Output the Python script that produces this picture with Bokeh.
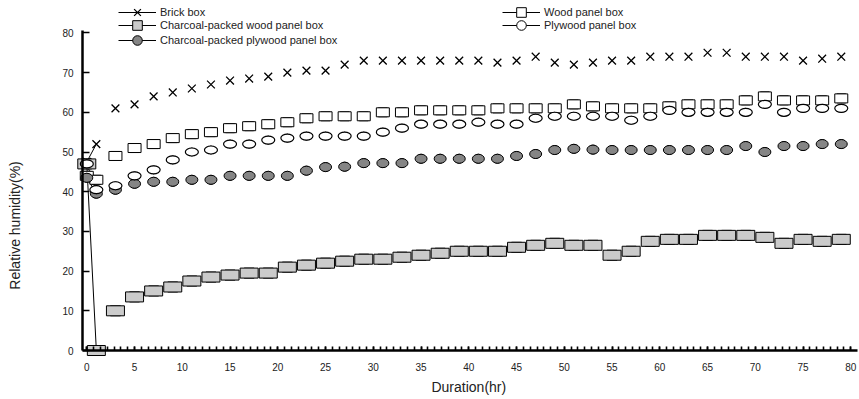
import math
from bokeh.plotting import figure
from bokeh.models import Range1d, SingleIntervalTicker, Legend, LegendItem, Label
from bokeh.embed import file_html
from bokeh.resources import INLINE

hours = [0, 1, 3, 5, 7, 9, 11, 13, 15, 17, 19, 21, 23, 25, 27, 29, 31, 33, 35, 37,
         39, 41, 43, 45, 47, 49, 51, 53, 55, 57, 59, 61, 63, 65, 67, 69, 71, 73, 75, 77, 79]

brick_box = [47.5, 52, 61, 62, 64, 65, 66, 67, 68, 68.5, 69, 70, 70.5, 70.5, 72, 73, 73, 73, 73, 73,
             73, 73, 72.5, 73, 74, 72.5, 72, 72.5, 73, 73, 74, 74, 74, 75, 75, 74, 74, 74, 73, 73.5, 74]

wood_panel_box = [44, 43, 49, 51, 52, 53.5, 54.5, 55, 56, 56.5, 57, 57.5, 58.5, 59, 59, 59, 60, 60, 60.5, 60.5,
                  60.5, 60.5, 61, 61, 61, 61, 62, 61.5, 61, 61, 61, 61.5, 62, 62, 62, 63, 64, 63, 63, 63, 63.5]

charcoal_wood_box = [47, 0, 10, 13.5, 15, 16, 17.5, 18.5, 19, 19.5, 19.5, 21, 21.5, 22, 22.5, 23, 23, 23.5, 24, 24.5,
                     25, 25, 25, 26, 26.5, 27, 26.5, 26.5, 24, 25, 27.5, 28, 28, 29, 29, 29, 28.5, 27, 28, 27.5, 28]

plywood_box = [47, 40.5, 41.5, 44, 45.5, 48, 50, 50.5, 52, 52, 53, 53.5, 54, 54, 54, 54, 55, 56, 57, 57,
               57, 57.5, 57, 57, 58.5, 59, 59, 59, 59, 58, 59, 60.5, 60, 60, 60, 60, 62, 60, 61, 61, 61]

charcoal_plywood_box = [43.5, 39.5, 40.5, 42, 42.5, 42.5, 43, 43, 44, 44, 44, 44, 45.3, 46.2, 46.3, 47.2, 47.2, 47.2, 48.3, 48.3,
                        48.3, 48.3, 48.3, 49, 49.5, 50.5, 50.8, 50.6, 50.5, 50.5, 50.5, 50.5, 50.5, 50.5, 50.5, 51.5, 50, 51.5, 51.5, 52, 52]

x_ticks_interval = 5
y_ticks_interval = 10
x_axis_bounds = (-0.45, 80.7)
y_axis_bounds = (0, 80.6)

FONT = "Liberation Sans"
LIGHT = "#cbcbcb"
DARK = "#858585"
TXT = "#222222"

p = figure(width=859, height=399, output_backend="svg", toolbar_location=None,
           x_range=Range1d(-9.036, 80.909), y_range=Range1d(-12.34, 88.16),
           min_border=0, min_border_left=0, min_border_right=0, min_border_top=0, min_border_bottom=0)
p.outline_line_color = None
p.grid.visible = False
p.background_fill_color = "white"
p.border_fill_color = "white"

# brick first (its 0 h mark sits under the other start marks)
r_brick = p.scatter(hours, brick_box, marker="x", size=11, line_color="black", line_width=1.3)

# first segments (0 -> 1 h)
seg = {}
for name, ys in [("brick", brick_box), ("wood", wood_panel_box), ("cwood", charcoal_wood_box),
                 ("ply", plywood_box), ("cply", charcoal_plywood_box)]:
    seg[name] = p.line(hours[:2], ys[:2], line_color="black", line_width=1)

# small core markers (used as legend samples), covered by the wider shapes drawn on top
c_cwood = p.scatter(hours, charcoal_wood_box, marker="square", size=10, fill_color=LIGHT, line_color="black")
r_cwood = p.rect(hours, charcoal_wood_box, width=18, height=10, width_units="screen", height_units="screen",
                 fill_color=LIGHT, line_color="black", line_width=1)
c_wood = p.scatter(hours, wood_panel_box, marker="square", size=9, fill_color="white", line_color="black")
r_wood = p.rect(hours, wood_panel_box, width=13, height=9, width_units="screen", height_units="screen",
                fill_color="white", line_color="black", line_width=1)
c_cply = p.scatter(hours, charcoal_plywood_box, marker="circle", size=9, fill_color=DARK, line_color="black")
r_cply = p.ellipse(hours, charcoal_plywood_box, width=12, height=9, width_units="screen", height_units="screen",
                   fill_color=DARK, line_color="black", line_width=1)
c_ply = p.scatter(hours, plywood_box, marker="circle", size=8, fill_color="white", line_color="black")
r_ply = p.ellipse(hours, plywood_box, width=13, height=8, width_units="screen", height_units="screen",
                  fill_color="white", line_color="black", line_width=1.2)

# axes, fixed at the data origin of the chart
xa = p.xaxis[0]
xa.ticker = SingleIntervalTicker(interval=x_ticks_interval, num_minor_ticks=7)
xa.fixed_location = 0
xa.bounds = x_axis_bounds
ya = p.yaxis[0]
ya.ticker = SingleIntervalTicker(interval=y_ticks_interval, num_minor_ticks=0)
ya.fixed_location = x_axis_bounds[0]
ya.bounds = y_axis_bounds
for ax in (xa, ya):
    ax.axis_line_width = 2.5
    ax.axis_line_color = "black"
    ax.major_tick_out = 0
    ax.minor_tick_out = 0
    ax.major_tick_line_width = 1.6
    ax.minor_tick_line_width = 1.6
    ax.major_label_text_font = FONT
    ax.major_label_text_font_size = "10px"
    ax.major_label_text_color = TXT
xa.major_tick_in = 4
xa.minor_tick_in = 4
xa.major_label_standoff = 12
ya.major_tick_in = 7
ya.minor_tick_in = 0
ya.major_label_standoff = 9

p.add_layout(Label(x=-7.57, y=31.5, text="Relative humidity(%)", angle=math.pi / 2,
                   text_align="center", text_baseline="middle",
                   text_font=FONT, text_font_size="14px", text_color=TXT))
p.add_layout(Label(x=40, y=-9.07, text="Duration(hr)", text_align="center", text_baseline="middle",
                   text_font=FONT, text_font_size="14px", text_color=TXT))

def mk_legend(item, loc):
    return Legend(items=[item], location=loc, orientation="vertical",
                  glyph_width=38, glyph_height=24, label_height=24, spacing=0,
                  label_standoff=4, padding=0, margin=0, border_line_color=None,
                  background_fill_alpha=0, label_text_font=FONT, label_text_font_size="11px",
                  label_text_color=TXT)

legend_rows = [
    (LegendItem(label="Brick box", renderers=[seg["brick"], r_brick]), (118, 375)),
    (LegendItem(label="Charcoal-packed wood panel box", renderers=[seg["cwood"], c_cwood]), (118, 362)),
    (LegendItem(label="Charcoal-packed plywood panel box", renderers=[seg["cply"], c_cply]), (118, 347)),
    (LegendItem(label="Wood panel box", renderers=[seg["wood"], c_wood]), (502, 375)),
    (LegendItem(label="Plywood panel box", renderers=[seg["ply"], c_ply]), (502, 362)),
]
for item, loc in legend_rows:
    p.add_layout(mk_legend(item, loc), "center")

open("out.html", "w").write(file_html(p, INLINE))
